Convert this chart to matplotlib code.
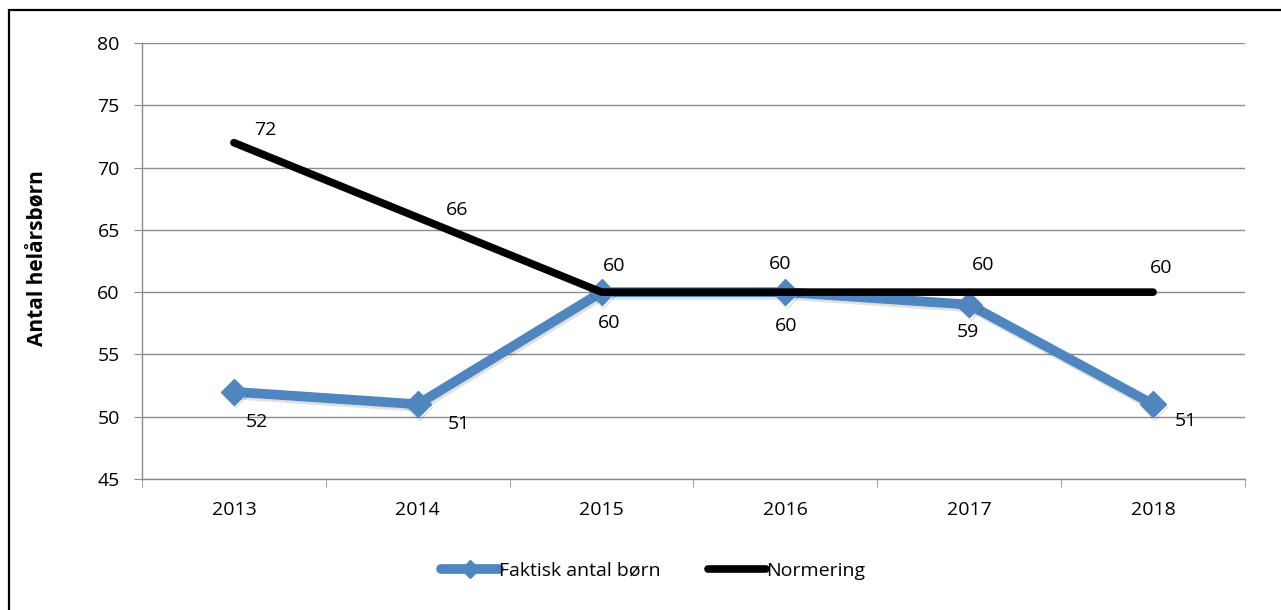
import matplotlib
matplotlib.use("Agg")
import matplotlib.pyplot as plt
import matplotlib.patheffects as pe
from matplotlib.patches import Rectangle
import numpy as np

years = ["2013", "2014", "2015", "2016", "2017", "2018"]
faktisk = [52, 51, 60, 60, 59, 51]
normering = [72, 66, 60, 60, 60, 60]
yticks = [45, 50, 55, 60, 65, 70, 75, 80]

# label offsets in pixels (styling)
fak_off = [(23, -30), (41, -20), (8, -31), (1, -34), (-1, -27), (33, -17)]
norm_off = [(31, 13), (39, 7), (13, 26), (-5, 28), (14, 27), (8, 24)]

plt.rcParams['font.family'] = ['Open Sans', 'DejaVu Sans']
W, H = 1281, 610
fig = plt.figure(figsize=(W / 100, H / 100), dpi=100)
FS = 14

# outer frame
fig.patches.append(Rectangle((9 / W, -0.1), 1.2, (1 - 10 / H) + 0.1, transform=fig.transFigure,
                             fill=False, edgecolor='black', linewidth=1.6))

ax = fig.add_axes([142 / W, 1 - 479 / H, (1245 - 142) / W, (479 - 43) / H])
x = np.arange(len(years))
grid_c = '#8c8c8c'

ax.set_ylim(45, 80)
ax.set_xlim(-0.5, len(years) - 0.5)
ax.set_yticks(yticks)
ax.yaxis.grid(True, color=grid_c, linewidth=1.0)
ax.set_axisbelow(True)
for s in ['top', 'right']:
    ax.spines[s].set_visible(False)
for s in ['left', 'bottom']:
    ax.spines[s].set_color(grid_c)
    ax.spines[s].set_linewidth(1.0)
ax.tick_params(axis='y', length=6, color=grid_c, labelsize=FS, pad=10)
ax.set_xticks(x)
ax.set_xticklabels(years)
ax.set_xticks(np.arange(-0.5, len(years), 1.0), minor=True)
ax.tick_params(axis='x', which='major', length=0, labelsize=FS, pad=16)
ax.tick_params(axis='x', which='minor', length=6, color=grid_c)

shadow = [pe.SimpleLineShadow(offset=(1.0, -2.0), shadow_color='black', alpha=0.12), pe.Normal()]
ax.plot(x, faktisk, color='#4f86c0', linewidth=7, marker='D', markersize=13,
        solid_capstyle='round', label='Faktisk antal børn', path_effects=shadow, zorder=3)
ax.plot(x, normering, color='black', linewidth=5.5, solid_capstyle='round',
        label='Normering', zorder=4)

for xi, v, (dx, dy) in zip(x, faktisk, fak_off):
    ax.annotate(str(v), (xi, v), xytext=(dx * 0.72, dy * 0.72), textcoords='offset points',
                ha='center', va='center', fontsize=FS)
for xi, v, (dx, dy) in zip(x, normering, norm_off):
    ax.annotate(str(v), (xi, v), xytext=(dx * 0.72, dy * 0.72), textcoords='offset points',
                ha='center', va='center', fontsize=FS)

fig.text(38 / W, 1 - 258 / H, 'Antal helårsbørn', rotation=90, ha='center', va='center',
         fontsize=15, fontweight='bold')

leg = ax.legend(loc='center', bbox_to_anchor=(653 / W, 1 - 571 / H), bbox_transform=fig.transFigure,
                ncol=2, frameon=False, fontsize=FS, handlelength=3.0, handletextpad=0.0,
                columnspacing=2.4, markerscale=0.7)
for h in leg.legend_handles:
    h.set_path_effects([])

fig.savefig('out.png', dpi=100)
